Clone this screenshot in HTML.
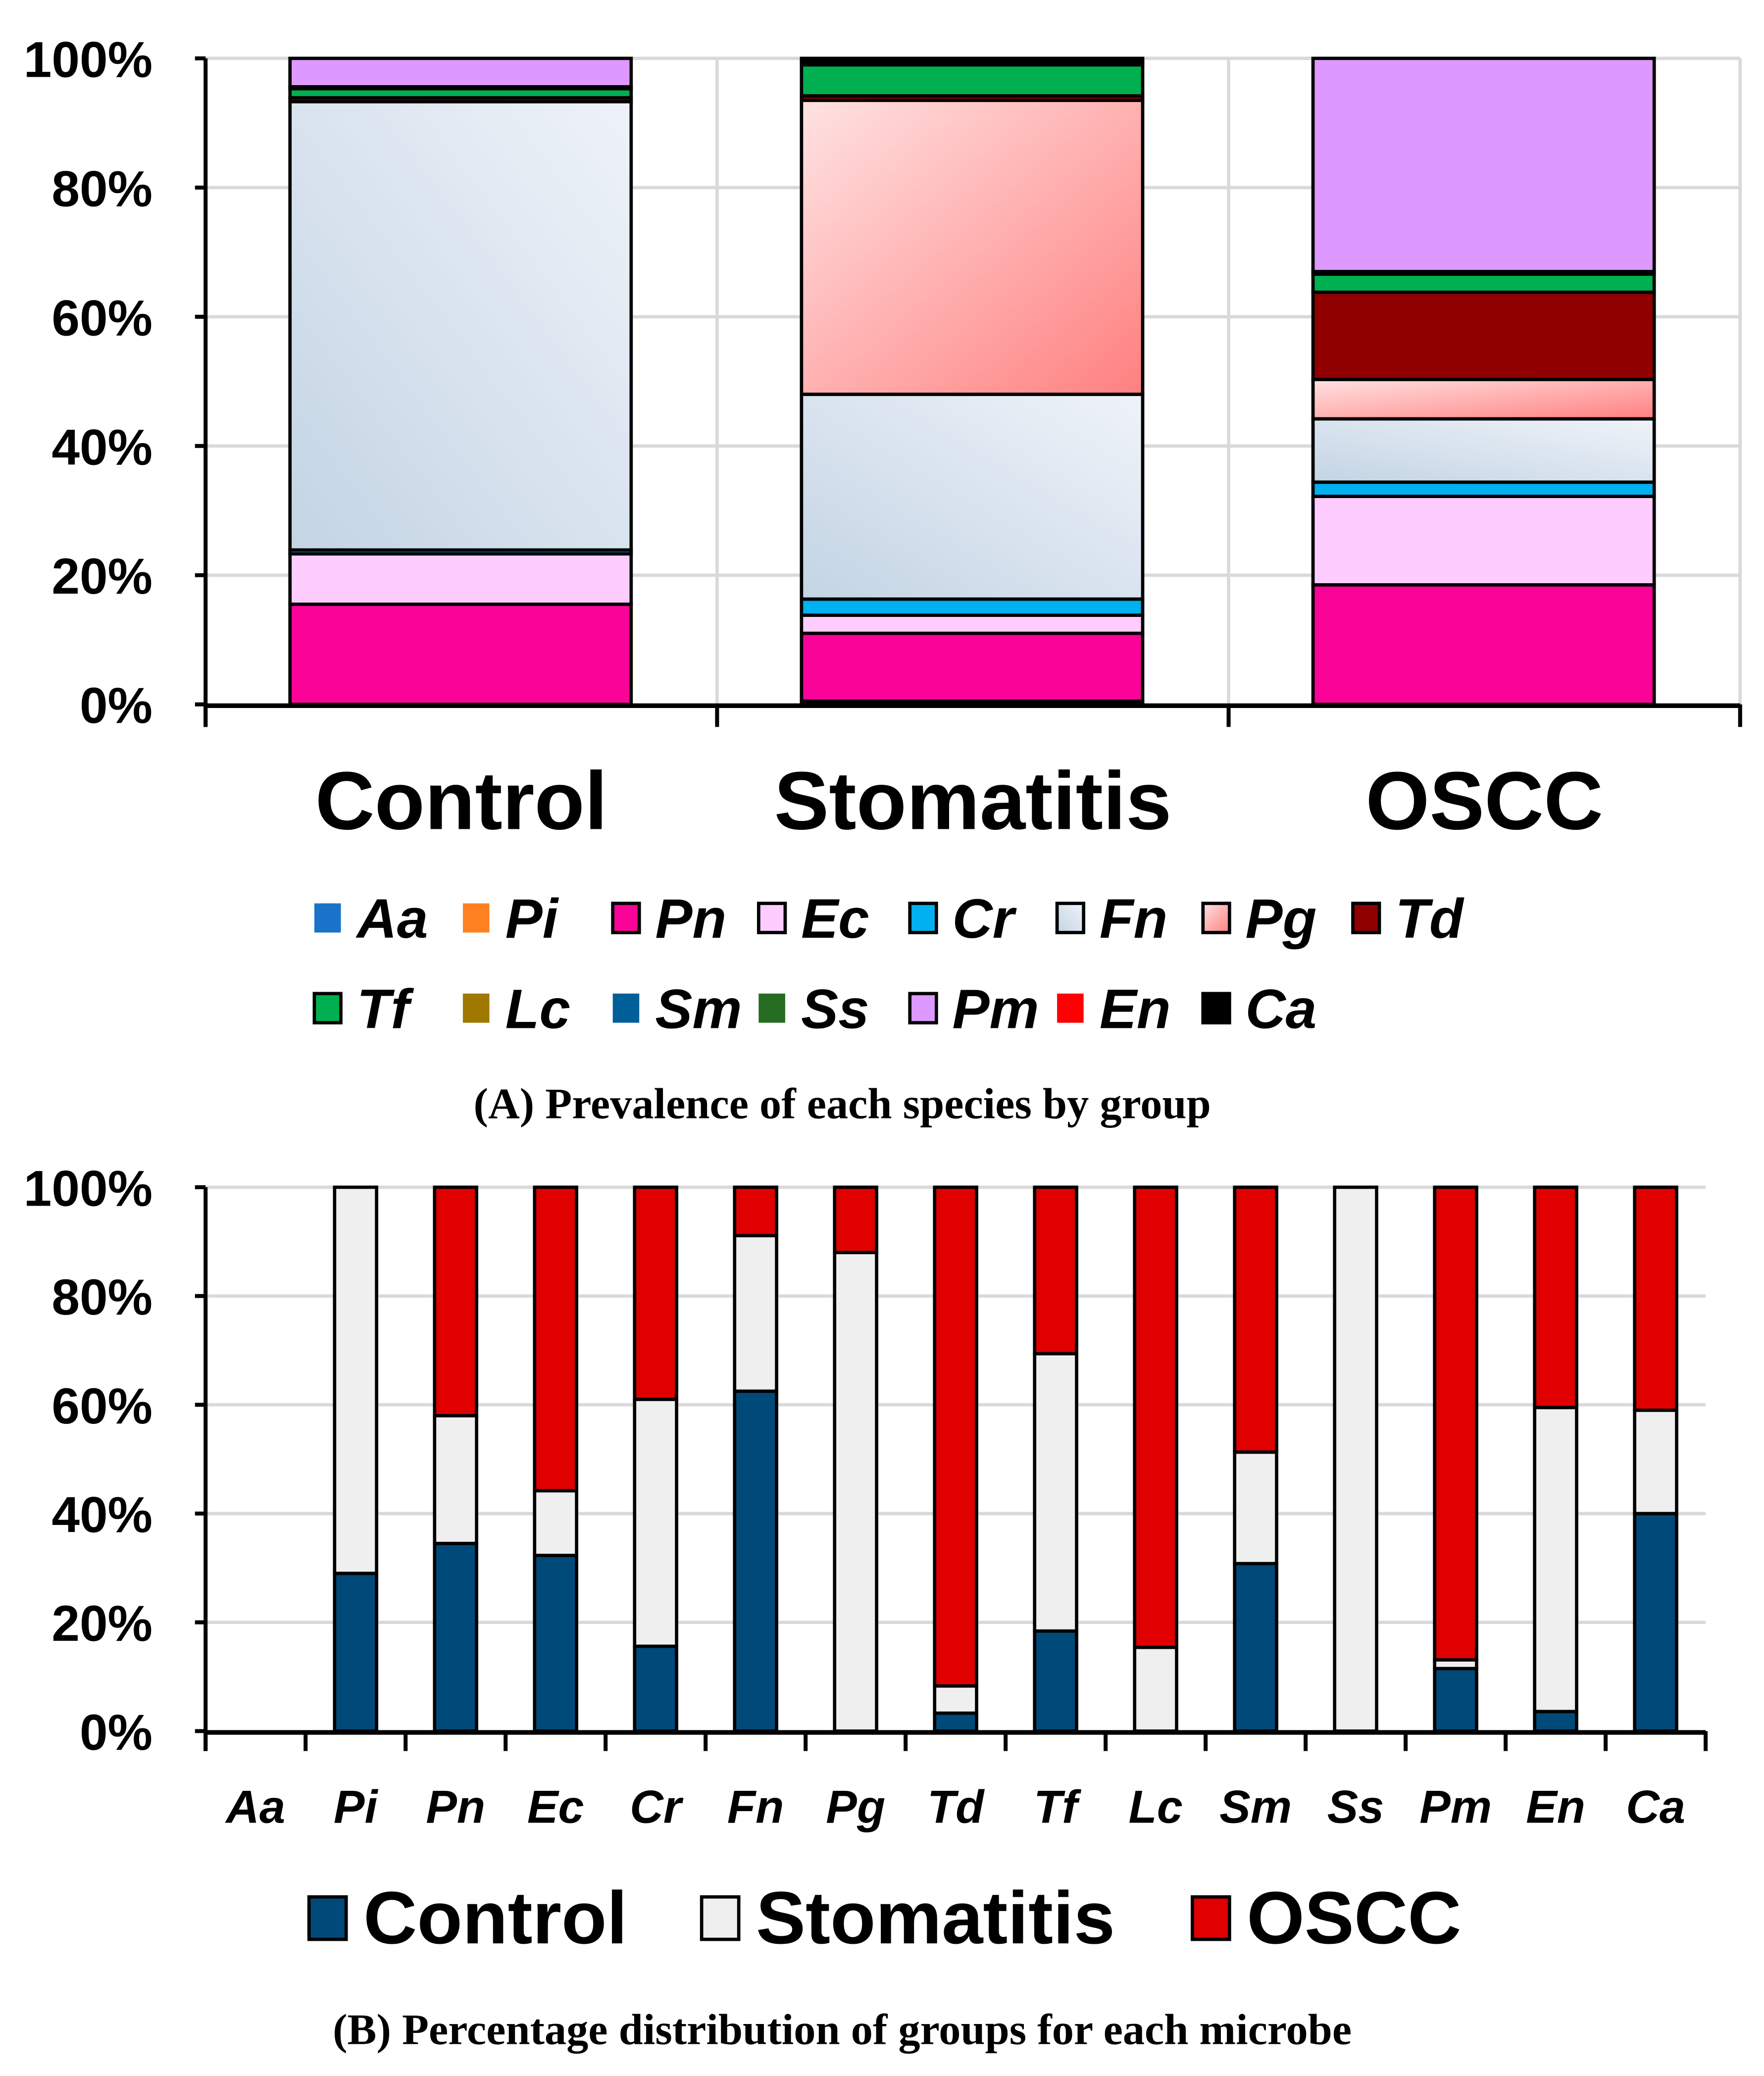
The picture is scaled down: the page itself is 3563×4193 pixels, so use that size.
<!DOCTYPE html>
<html><head><meta charset="utf-8"><style>
html,body{margin:0;padding:0;background:#fff}
svg{display:block}
text{font-family:"Liberation Sans",Arial,sans-serif}
</style></head><body>
<svg id="chart" width="3563" height="4193" viewBox="0 0 1330 1565" preserveAspectRatio="none" xmlns="http://www.w3.org/2000/svg">
<defs>
<linearGradient id="gFn" x1="0" y1="1" x2="1" y2="0"><stop offset="0" stop-color="#c3d4e4"/><stop offset="1" stop-color="#eff3f9"/></linearGradient>
<linearGradient id="gPg" x1="0" y1="0" x2="1" y2="1"><stop offset="0" stop-color="#ffe2e2"/><stop offset="1" stop-color="#ff8080"/></linearGradient>
</defs>
<g id="chartA"></g>
<g id="chartB"></g>
<text x="635" y="843" text-anchor="middle" font-size="33" font-weight="bold" style="font-family:'Liberation Serif',serif">(A) Prevalence of each species by group</text>
<text x="635" y="1541" text-anchor="middle" font-size="33" font-weight="bold" style="font-family:'Liberation Serif',serif">(B) Percentage distribution of groups for each microbe</text>
</svg>
<script>
const species = ["Aa","Pi","Pn","Ec","Cr","Fn","Pg","Td","Tf","Lc","Sm","Ss","Pm","En","Ca"];
const speciesColors = ["#1a73c9","#ff8020","#fa0398","#ffccff","#00b0f0","url(#gFn)","url(#gPg)","#900000","#00b050","#a07800","#005f99","#256b22","#dd99ff","#ff0000","#000000"];
const groupsA = ["Control","Stomatitis","OSCC"];
const controlA = [0,0,15.5,7.8,0.6,69.4,0,0.6,1.4,0,0.3,0,4.4,0,0];
const stomatitisA = [0,0.5,10.5,2.8,2.5,31.7,45.5,0.7,4.8,0,0.3,0,0.4,0,0.3];
const osccA = [0,0,18.5,13.7,2.2,9.8,6.1,13.5,2.8,0,0.4,0,33,0,0];
const yTicks = ["0%","20%","40%","60%","80%","100%"];
const controlB = [0,29,34.5,32.3,15.6,62.5,0,3.3,18.4,0,30.8,0,11.5,3.6,40];
const stomatitisB = [0,71,23.5,11.9,45.4,28.6,88,5,51,15.4,20.5,100,1.6,55.9,19];
const osccB = [0,0,42,55.8,39,8.9,12,91.7,30.6,84.6,48.7,0,86.9,40.5,41];
const groupColors = ["#004a7a","#efefef","#e00000"];
const NS="http://www.w3.org/2000/svg";
function mk(tag,attrs,parent,txt){const e=document.createElementNS(NS,tag);for(const k in attrs)e.setAttribute(k,attrs[k]);if(txt!==undefined)e.textContent=txt;parent.appendChild(e);return e;}

// Chart A
(function(){
const g=document.getElementById('chartA');
const L=155,R=1312,T=44,B=531;
const y=v=>B-(B-T)*v/100;
const cw=(R-L)/groupsA.length;
yTicks.forEach((t,i)=>{const v=i*20;
 if(v>0){const l=mk('line',{x1:L,x2:R,y1:y(v),y2:y(v),stroke:'#d9d9d9','stroke-width':2.5},g);}
 const tx=mk('text',{x:115,y:y(v)+14,'text-anchor':'end','font-size':38,'font-weight':'bold'},g,t);
 
 mk('line',{x1:L-8,x2:L,y1:y(v),y2:y(v),stroke:'#000','stroke-width':3},g);
});
for(let i=1;i<=groupsA.length;i++){mk('line',{x1:L+cw*i,x2:L+cw*i,y1:T,y2:B,stroke:'#d9d9d9','stroke-width':2.5},g);}
const data=[controlA,stomatitisA,osccA];
data.forEach((arr,gi)=>{
 const x0=L+cw*gi+cw*0.165,w=cw*0.667;let acc=0;
 arr.forEach((v,si)=>{if(v<=0)return;
  const r=mk('rect',{x:x0,y:y(acc+v),width:w,height:y(acc)-y(acc+v),fill:speciesColors[si],stroke:'#000','stroke-width':2.5},g);
  
  
  acc+=v;});
 const t=mk('text',{x:L+cw*(gi+0.5),y:625,'text-anchor':'middle','font-size':62,'font-weight':'bold'},g,groupsA[gi]);
 
});
mk('line',{x1:L,x2:L,y1:T,y2:548,stroke:'#000','stroke-width':3},g);
mk('line',{x1:L,x2:R,y1:B+1,y2:B+1,stroke:'#000','stroke-width':3.5},g);
for(let i=0;i<=groupsA.length;i++)mk('line',{x1:L+cw*i,x2:L+cw*i,y1:B,y2:548,stroke:'#000','stroke-width':3},g);
const lx=[237,349,462,572,686,797,907,1020];
species.forEach((s,i)=>{const row=i<8?0:1,col=i%8;const cy=row?760:692;
 const lg=mk('g',{},g);
 mk('rect',{x:lx[col],y:cy-11,width:20,height:22,fill:speciesColors[i],stroke:'#000','stroke-width':(i===0||i===1||i===9||i===10||i===11||i===13)?0:2.5},lg);
 mk('text',{x:lx[col]+32,y:cy+15,'font-size':42,'font-weight':'bold','font-style':'italic'},lg,s);
});
})();

// Chart B
(function(){
const g=document.getElementById('chartB');
const L=155,R=1286,T=895,B=1305;
const y=v=>B-(B-T)*v/100;
const cw=(R-L)/species.length;
yTicks.forEach((t,i)=>{const v=i*20;
 if(v>0){const l=mk('line',{x1:L,x2:R,y1:y(v),y2:y(v),stroke:'#d9d9d9','stroke-width':2.5},g);}
 const tx=mk('text',{x:115,y:y(v)+14,'text-anchor':'end','font-size':38,'font-weight':'bold'},g,t);
 
 mk('line',{x1:L-8,x2:L,y1:y(v),y2:y(v),stroke:'#000','stroke-width':3},g);
});
const data=[controlB,stomatitisB,osccB];
species.forEach((s,si)=>{
 const x0=L+cw*si+cw*0.29,w=cw*0.42;let acc=0;
 data.forEach((arr,gi)=>{const v=arr[si];if(v<=0)return;
  const r=mk('rect',{x:x0,y:y(acc+v),width:w,height:y(acc)-y(acc+v),fill:groupColors[gi],stroke:'#000','stroke-width':2.5},g);
  
  
  acc+=v;});
 const t=mk('text',{x:L+cw*(si+0.5),y:1374,'text-anchor':'middle','font-size':35,'font-weight':'bold','font-style':'italic'},g,s);
 
});
mk('line',{x1:L,x2:L,y1:T,y2:1320,stroke:'#000','stroke-width':3},g);
mk('line',{x1:L,x2:R,y1:B+1,y2:B+1,stroke:'#000','stroke-width':3.5},g);
for(let i=0;i<=species.length;i++)mk('line',{x1:L+cw*i,x2:L+cw*i,y1:B,y2:1320,stroke:'#000','stroke-width':3},g);
const lx=[233,529,899];
groupsA.forEach((n,i)=>{
 const lg=mk('g',{},g);
 mk('rect',{x:lx[i],y:1430,width:28,height:32,fill:groupColors[i],stroke:'#000','stroke-width':2.5},lg);
 mk('text',{x:lx[i]+41,y:1465,'font-size':56,'font-weight':'bold'},lg,n);
});
})();
</script>
</body></html>
